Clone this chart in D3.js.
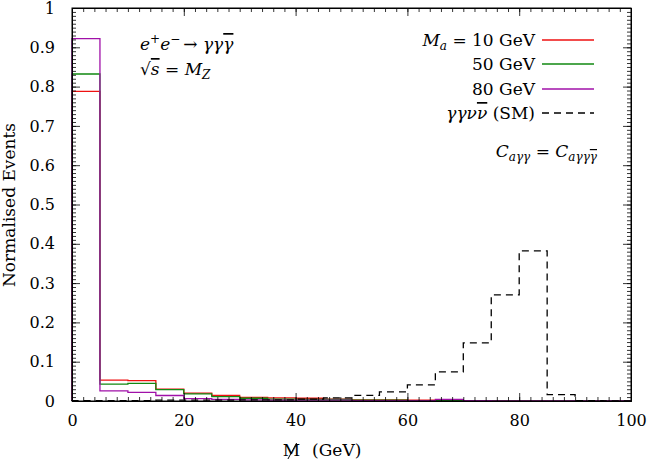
<!DOCTYPE html>
<html>
<head>
<meta charset="utf-8">
<script src="https://cdn.jsdelivr.net/npm/d3@7"></script>
<style>
  body { margin: 0; background: #fff; }
  svg text { font-family: "DejaVu Serif", "Liberation Serif", serif; fill: #000; }
  .it { font-style: italic; }
</style>
</head>
<body>
<div id="chart"></div>
<script>
// bin edges of the histogram (GeV)
var binLow = [0, 5, 10, 15, 20, 25, 30, 35, 40, 45, 50, 55, 60, 65, 70, 75, 80, 85, 90, 95];
var binWidth = 5;

// normalised events per bin
var ma10 = [0.788, 0.053, 0.052, 0.030, 0.020, 0.014, 0.009, 0.008, 0.007, 0.005, 0.003, 0.003, 0.002, 0.002, 0.001, 0.001, 0.001, 0, 0, 0];
var ma50 = [0.832, 0.043, 0.045, 0.029, 0.018, 0.011, 0.007, 0.005, 0.004, 0.004, 0.002, 0.002, 0.001, 0.001, 0.001, 0, 0, 0, 0, 0];
var ma80 = [0.922, 0.026, 0.022, 0.014, 0.006, 0.004, 0.003, 0.002, 0.002, 0.002, 0.001, 0.001, 0.001, 0.004, 0.001, 0, 0, 0, 0, 0];
var smBkg = [0.001, 0.001, 0.001, 0.002, 0.002, 0.002, 0.003, 0.003, 0.005, 0.008, 0.0145, 0.023, 0.041, 0.074, 0.148, 0.270, 0.382, 0.016, 0.001, 0];

var xTicks = [0, 20, 40, 60, 80, 100];
var yTicks = [0, 0.1, 0.2, 0.3, 0.4, 0.5, 0.6, 0.7, 0.8, 0.9, 1];
var legendNames = ["10 GeV", "50 GeV", "80 GeV", "SM"];

function init(){
    var w = 648, h = 461;
    var left = 72, right = 631, top = 8, bottom = 401;
    var font = "'DejaVu Serif', 'Liberation Serif', serif";

    var svg = d3.select("#chart").append("svg")
        .attr("width", w)
        .attr("height", h);

    var xScale = d3.scaleLinear().domain([0, 100]).range([left, right]);
    var yScale = d3.scaleLinear().domain([0, 1]).range([bottom, top]);

    // step line through the bins
    var stepLine = function(vals){
        var pts = [];
        vals.forEach(function(v, i){
            pts.push([binLow[i], v]);
            pts.push([binLow[i] + binWidth, v]);
        });
        pts.unshift([0, 0]);
        return d3.line()
            .x(function(d){ return xScale(d[0]); })
            .y(function(d){ return yScale(d[1]); })(pts);
    };

    var series = [
        {vals: ma10, color: "#ee1111", dash: null},
        {vals: ma50, color: "#118811", dash: null},
        {vals: ma80, color: "#a011a8", dash: null},
        {vals: smBkg, color: "#000", dash: "7,5"}
    ];

    series.forEach(function(s){
        svg.append("path")
            .attr("d", stepLine(s.vals))
            .attr("fill", "none")
            .attr("stroke", s.color)
            .attr("stroke-width", 1.3)
            .attr("stroke-dasharray", s.dash);
    });

    // axes, ticks pointing inward, mirrored on all sides
    var xMinor = d3.range(0, 101, 2);
    var yMinor = d3.range(0, 101, 1).map(function(d){ return d / 100; });

    var bottomAxis = d3.axisBottom(xScale).tickValues(xTicks).tickSizeInner(-8).tickSizeOuter(0).tickPadding(14)
        .tickFormat(d3.format("d"));
    svg.append("g").attr("transform", `translate(0,${bottom})`).call(bottomAxis);
    svg.append("g").attr("transform", `translate(0,${bottom})`)
        .call(d3.axisBottom(xScale).tickValues(xMinor).tickSizeInner(-4).tickSizeOuter(0).tickFormat(""));
    svg.append("g").attr("transform", `translate(0,${top})`)
        .call(d3.axisTop(xScale).tickValues(xTicks).tickSizeInner(-8).tickSizeOuter(0).tickFormat(""));
    svg.append("g").attr("transform", `translate(0,${top})`)
        .call(d3.axisTop(xScale).tickValues(xMinor).tickSizeInner(-4).tickSizeOuter(0).tickFormat(""));

    var leftAxis = d3.axisLeft(yScale).tickValues(yTicks).tickSizeInner(-8).tickSizeOuter(0).tickPadding(17)
        .tickFormat(function(d){ return d === 0 || d === 1 ? d3.format("d")(d) : d3.format(".1f")(d); });
    svg.append("g").attr("transform", `translate(${left},0)`).call(leftAxis);
    svg.append("g").attr("transform", `translate(${left},0)`)
        .call(d3.axisLeft(yScale).tickValues(yMinor).tickSizeInner(-4).tickSizeOuter(0).tickFormat(""));
    svg.append("g").attr("transform", `translate(${right},0)`)
        .call(d3.axisRight(yScale).tickValues(yTicks).tickSizeInner(-8).tickSizeOuter(0).tickFormat(""));
    svg.append("g").attr("transform", `translate(${right},0)`)
        .call(d3.axisRight(yScale).tickValues(yMinor).tickSizeInner(-4).tickSizeOuter(0).tickFormat(""));

    svg.selectAll("g").attr("font-family", null);
    svg.selectAll(".domain").attr("stroke", "#000");
    svg.selectAll(".tick line").attr("stroke", "#000").attr("stroke-width", 0.8);
    svg.selectAll(".tick text").style("font-family", font).style("font-size", "16px");

    // frame
    svg.append("rect")
        .attr("x", left).attr("y", top)
        .attr("width", right - left).attr("height", bottom - top)
        .attr("fill", "none").attr("stroke", "#000").attr("stroke-width", 1);

    // axis titles: slashed M (missing mass) then unit
    var xl = svg.append("text")
        .attr("x", 322).attr("y", 456)
        .attr("text-anchor", "middle")
        .style("font-size", "17px");
    var mSpan = xl.append("tspan").text("M");
    xl.append("tspan").attr("dx", 12).text("(GeV)");
    var mBox = mSpan.node().getExtentOfChar(0);
    svg.append("line")
        .attr("x1", mBox.x + mBox.width * 0.3).attr("y1", 459)
        .attr("x2", mBox.x + mBox.width * 0.8).attr("y2", 443)
        .attr("stroke", "#000").attr("stroke-width", 1);

    svg.append("text")
        .attr("transform", "translate(15,205) rotate(-90)")
        .attr("text-anchor", "middle")
        .style("font-size", "17px")
        .text("Normalised  Events");

    // process annotation
    var t1 = svg.append("text").attr("x", 140).attr("y", 50).style("font-size", "17px");
    t1.append("tspan").attr("class", "it").text("e");
    t1.append("tspan").attr("dy", -7).style("font-size", "12px").text("+");
    t1.append("tspan").attr("class", "it").attr("dy", 7).text("e");
    t1.append("tspan").attr("dy", -7).style("font-size", "12px").text("−");
    t1.append("tspan").attr("dy", 7).attr("dx", 3).text("→ ");
    t1.append("tspan").attr("class", "it").text("γγ");
    t1.append("tspan").attr("class", "it").style("text-decoration", "overline").text("γ");

    var t2 = svg.append("text").attr("x", 140).attr("y", 75).style("font-size", "17px");
    t2.append("tspan").text("√");
    t2.append("tspan").attr("class", "it").style("text-decoration", "overline").text("s");
    t2.append("tspan").text(" = ");
    t2.append("tspan").attr("class", "it").text("M");
    t2.append("tspan").attr("class", "it").attr("dy", 4).style("font-size", "12px").text("Z");

    // legend
    var legY = [40, 64, 89, 113];
    var lg = svg.append("g");
    series.forEach(function(s, i){
        lg.append("line")
            .attr("x1", 542).attr("x2", 594)
            .attr("y1", legY[i]).attr("y2", legY[i])
            .attr("stroke", s.color)
            .attr("stroke-width", 1.3)
            .attr("stroke-dasharray", s.dash);
    });
    var l0 = lg.append("text").attr("x", 535).attr("y", legY[0] + 6).attr("text-anchor", "end").style("font-size", "17px");
    l0.append("tspan").attr("class", "it").text("M");
    l0.append("tspan").attr("class", "it").attr("dy", 4).style("font-size", "12px").text("a");
    l0.append("tspan").attr("dy", -4).text(" = " + legendNames[0]);
    lg.append("text").attr("x", 535).attr("y", legY[1] + 6).attr("text-anchor", "end").style("font-size", "17px").text(legendNames[1]);
    lg.append("text").attr("x", 535).attr("y", legY[2] + 6).attr("text-anchor", "end").style("font-size", "17px").text(legendNames[2]);
    var l3 = lg.append("text").attr("x", 535).attr("y", legY[3] + 6).attr("text-anchor", "end").style("font-size", "17px");
    l3.append("tspan").attr("class", "it").text("γγν");
    l3.append("tspan").attr("class", "it").style("text-decoration", "overline").text("ν");
    l3.append("tspan").text(" (" + legendNames[3] + ")");

    // coupling note
    var c = svg.append("text").attr("x", 597).attr("y", 157).attr("text-anchor", "end").style("font-size", "17px");
    c.append("tspan").attr("class", "it").text("C");
    c.append("tspan").attr("class", "it").attr("dy", 4).style("font-size", "12px").text("aγγ");
    c.append("tspan").attr("dy", -4).text(" = ");
    c.append("tspan").attr("class", "it").text("C");
    c.append("tspan").attr("class", "it").attr("dy", 4).style("font-size", "12px").text("aγγ");
    c.append("tspan").attr("class", "it").style("font-size", "12px").style("text-decoration", "overline").text("γ");
}
window.onload = init;
</script>
</body>
</html>
